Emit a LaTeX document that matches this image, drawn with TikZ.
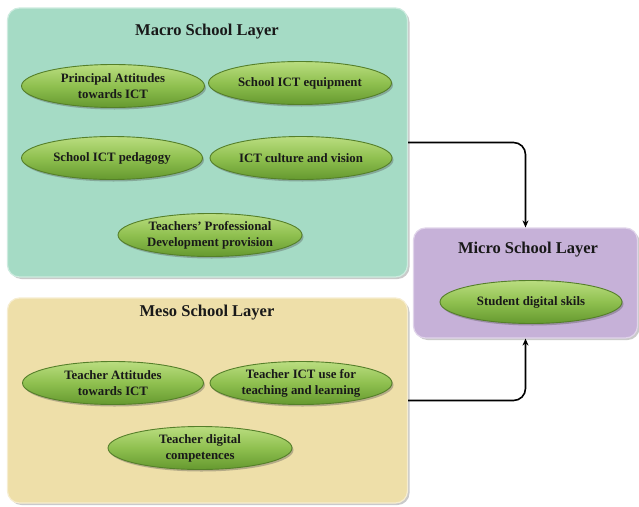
\documentclass[tikz,border=0pt]{standalone}
\usepackage{fontspec}
\setmainfont{Liberation Serif}
\usetikzlibrary{shapes.geometric,shadows,arrows.meta}
\definecolor{macrofill}{HTML}{A5DBC5}
\definecolor{mesofill}{HTML}{EEDFA9}
\definecolor{microfill}{HTML}{C6B1D8}
\definecolor{ovtop}{HTML}{BADD80}
\definecolor{ovmid}{HTML}{8FC04F}
\definecolor{ovbot}{HTML}{65992F}
\definecolor{ovline}{HTML}{557F2A}
\tikzset{
  layerbox/.style={rectangle, rounded corners=12pt, line width=1.2pt, inner sep=0pt,
    drop shadow={shadow xshift=2pt, shadow yshift=-2pt, opacity=0.35, fill=black!60}},
  title/.style={font=\bfseries\fontsize{16.5}{18}\selectfont, inner sep=0pt, text=black!90},
  oval/.style={ellipse, inner sep=0pt, align=center, minimum height=43pt,
    top color=ovtop, bottom color=ovbot, middle color=ovmid, draw=ovline, line width=0.9pt,
    font=\bfseries\fontsize{12.8}{16}\selectfont, text=black!90,
    drop shadow={shadow xshift=1.5pt, shadow yshift=-2pt, opacity=0.35, fill=black!70}},
  conn/.style={line width=1.6pt, rounded corners=12pt, -{Stealth[length=7pt,width=6pt]}}
}
\begin{document}
\begin{tikzpicture}[x=1pt,y=-1pt]
\useasboundingbox (0,0) rectangle (639,506);
% layer boxes
\node[layerbox, fill=macrofill, draw=macrofill!55!white, minimum width=400pt, minimum height=269pt] (macro) at (207.5,142.5) {};
\node[layerbox, fill=mesofill, draw=mesofill!55!white, minimum width=400pt, minimum height=205pt] (meso) at (207.5,400.5) {};
\node[layerbox, fill=microfill, draw=microfill!55!white, minimum width=224pt, minimum height=110pt] (micro) at (525.5,283) {};
% titles
\node[title] (macrot) at (207,32) {Macro School Layer};
\node[title] (mesot) at (207,313) {Meso School Layer};
\node[title] (microt) at (528,250) {Micro School Layer};
% macro ovals
\node[oval, minimum width=183pt] (pa) at (113,86) {Principal Attitudes\\towards ICT};
\node[oval, minimum width=183pt] (eq) at (300,83) {School ICT equipment};
\node[oval, minimum width=181pt] (pe) at (112,158) {School ICT pedagogy};
\node[oval, minimum width=182pt] (cv) at (301,158) {ICT culture and vision};
\node[oval, minimum width=184pt] (pd) at (210,235) {Teachers’ Professional\\Development provision};
% meso ovals
\node[oval, minimum width=181pt] (ta) at (113,383) {Teacher Attitudes\\towards ICT};
\node[oval, minimum width=182pt] (tu) at (301,383) {Teacher ICT use for\\teaching and learning};
\node[oval, minimum width=184pt] (tc) at (200,448) {Teacher digital\\competences};
% micro oval
\node[oval, minimum width=182pt] (sd) at (531,302) {Student digital skils};
% connectors
\draw[conn] (macro.east) -| (micro.north);
\draw[conn] (meso.east) -| (micro.south);
\end{tikzpicture}
\end{document}
